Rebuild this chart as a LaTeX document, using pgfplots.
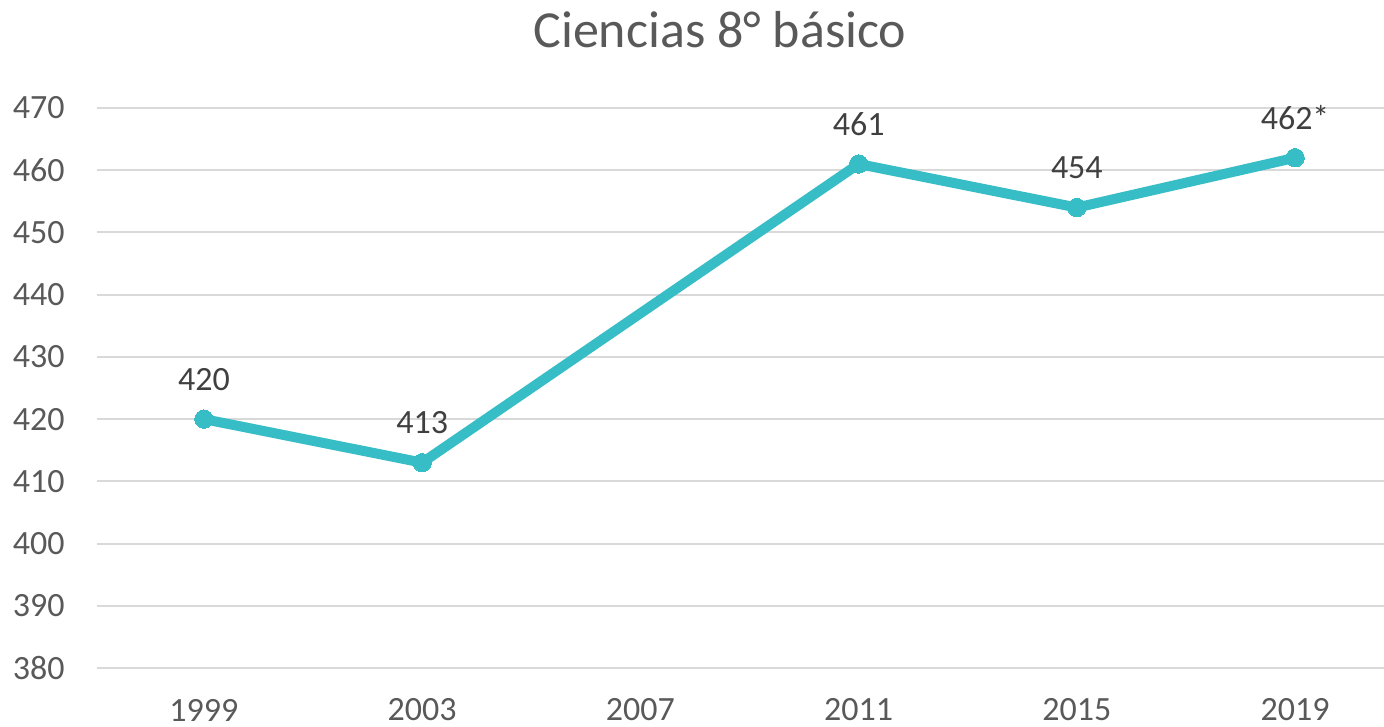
\documentclass[border=0pt]{standalone}
\usepackage{pgfplots}
\pgfplotsset{compat=1.18}
\usepackage{fontspec}
\setmainfont{Carlito}
\definecolor{teal}{RGB}{54,189,198}
\definecolor{gridc}{RGB}{217,217,217}
\definecolor{tickc}{RGB}{89,89,89}
\definecolor{labc}{RGB}{64,64,64}
\begin{document}
\begin{tikzpicture}
\begin{axis}[
  scale only axis,
  width=643.5pt, height=280pt,
  xmin=1997.04, xmax=2020.63,
  ymin=380, ymax=470,
  xtick={1999,2003,2007,2011,2015,2019},
  ytick={380,390,...,470},
  xticklabel={\pgfmathprintnumber[fixed,1000 sep={}]{\tick}},
  /pgf/number format/assume math mode=true,
  ymajorgrids,
  grid style={gridc, line width=1pt},
  axis line style={draw=none},
  major tick length=0pt,
  tick label style={font=\fontsize{17}{20}\selectfont, text=tickc, inner sep=0pt},
  yticklabel style={anchor=east, xshift=-16pt},
  xticklabel style={anchor=center, yshift=-21pt},
  clip=false,
]
\addplot[color=teal, line width=5pt, mark=*, mark size=4.6pt, mark options={fill=teal, draw=teal, line width=0pt},
  nodes near coords, point meta=explicit symbolic,
  every node near coord/.append style={font=\fontsize{17}{20}\selectfont, text=labc, anchor=center, yshift=20pt, inner sep=0pt}]
  table[meta=lab] {
  x y lab
  1999 420 420
  2003 413 413
  2011 461 461
  2015 454 454
  2019 462 462*
  };
\node[font=\fontsize{26}{31}\selectfont, text=tickc] at (rel axis cs:0.484,1) [yshift=39pt] {Ciencias 8° básico};
\end{axis}
\pgfresetboundingbox
\path (current axis.south west) ++(-48.5pt,-29.5pt) coordinate (bl);
\path (current axis.north east) ++(0pt,54pt) coordinate (tr);
\path[use as bounding box] (bl) rectangle (tr);
\end{tikzpicture}
\end{document}
